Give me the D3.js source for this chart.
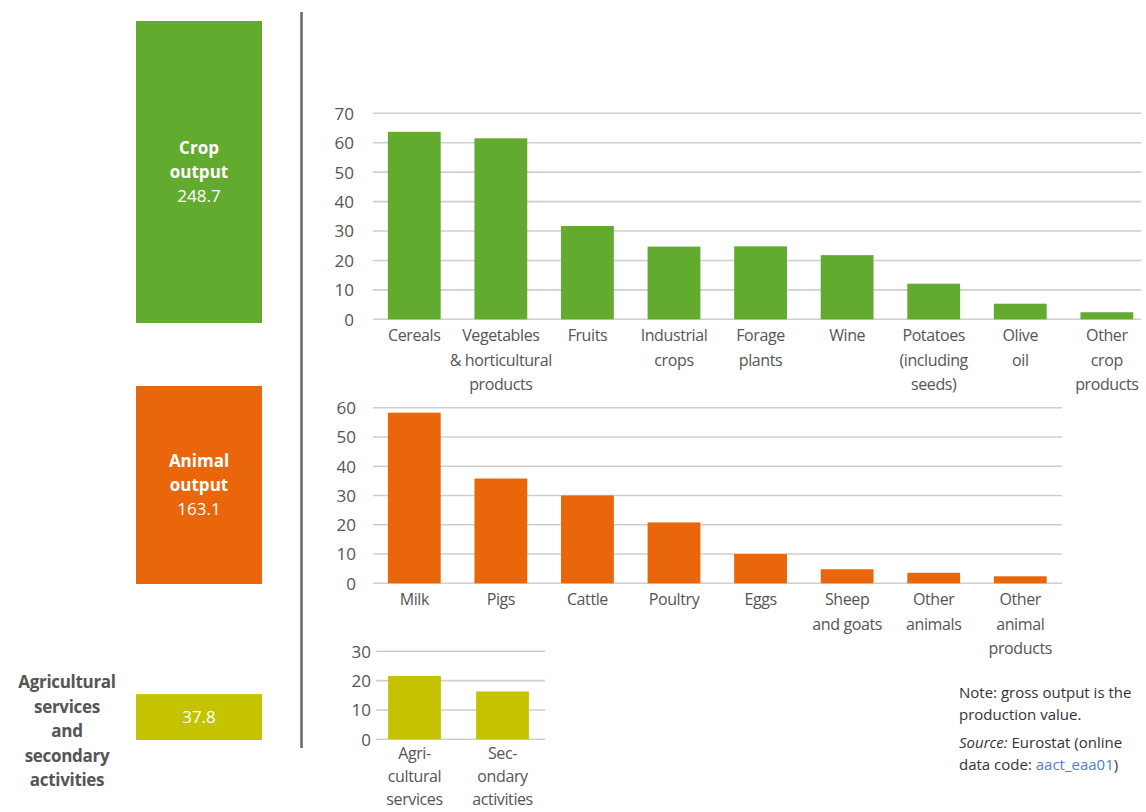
<!DOCTYPE html>
<html>
<head>
<meta charset="utf-8">
<script src="https://cdn.jsdelivr.net/npm/d3@7"></script>
<style>
  html, body { margin: 0; padding: 0; background: #fff; }
  svg { display: block; font-family: "Open Sans", "Noto Sans", sans-serif; }
</style>
</head>
<body>
<svg id="chart" width="1146" height="812"></svg>
<script>
// ---- Data ----
const cropCategories = ["Cereals", "Vegetables\n& horticultural\nproducts", "Fruits", "Industrial\ncrops", "Forage\nplants", "Wine", "Potatoes\n(including\nseeds)", "Olive\noil", "Other\ncrop\nproducts"];
const cropValues = [63.7, 61.5, 31.7, 24.7, 24.8, 21.8, 12.1, 5.3, 2.4];
const cropTicks = [0, 10, 20, 30, 40, 50, 60, 70];

const animalCategories = ["Milk", "Pigs", "Cattle", "Poultry", "Eggs", "Sheep\nand goats", "Other\nanimals", "Other\nanimal\nproducts"];
const animalValues = [58.3, 35.8, 30.0, 20.8, 10.0, 4.8, 3.6, 2.4];
const animalTicks = [0, 10, 20, 30, 40, 50, 60];

const serviceCategories = ["Agri-\ncultural\nservices", "Sec-\nondary\nactivities"];
const serviceValues = [21.6, 16.3];
const serviceTicks = [0, 10, 20, 30];

const groupNames = [["Crop", "output"], ["Animal", "output"], []];
const groupTotals = [248.7, 163.1, 37.8];
const sideLabel = ["Agricultural", "services", "and", "secondary", "activities"];
const noteLines = ["Note: gross output is the", "production value."];

// ---- Styles ----
const colors = ["#63ab2f", "#ea660b", "#c5c300"];
const gridColor = "#cfcfcf";
const textColor = "#555";

const svg = d3.select("#chart");

// ---- Left summary boxes ----
const boxScale = d3.scaleLinear().domain([0, 248.7]).range([0, 302]);
const boxBottoms = [323, 584, 740];
const boxX = 136, boxW = 126;
groupTotals.forEach((t, i) => {
  const h = boxScale(t);
  const top = boxBottoms[i] - h;
  svg.append("rect").attr("x", boxX).attr("y", top).attr("width", boxW).attr("height", h)
    .attr("fill", colors[i]);
  const cy = top + h / 2;
  const lines = groupNames[i].map(s => ({ s, bold: true })).concat([{ s: String(t), bold: false }]);
  const n = lines.length;
  lines.forEach((ln, k) => {
    svg.append("text").attr("x", boxX + boxW / 2).attr("y", cy + (k - (n - 1) / 2) * 24 + 6)
      .attr("text-anchor", "middle").attr("fill", "#fff").attr("font-size", 17)
      .attr("font-weight", ln.bold ? 700 : 400).text(ln.s);
  });
});

// side label for services
sideLabel.forEach((s, k) => {
  svg.append("text").attr("x", 67).attr("y", 688 + k * 24.5)
    .attr("text-anchor", "middle").attr("fill", textColor).attr("font-size", 17)
    .attr("font-weight", 700).attr("letter-spacing", -0.3).text(s);
});

// vertical divider
svg.append("line").attr("x1", 301.5).attr("x2", 301.5).attr("y1", 12).attr("y2", 748)
  .attr("stroke", "#666").attr("stroke-width", 2.5);

// ---- Bar charts ----
function barChart(cats, vals, ticks, color, opt) {
  const g = svg.append("g");
  const x = d3.scaleBand().domain(cats).range([opt.x0, opt.x0 + cats.length * opt.step])
    .paddingInner(opt.pad).paddingOuter(opt.pad / 2);
  const y = d3.scaleLinear().domain([0, d3.max(ticks)]).range([opt.yBase, opt.yTop]);

  // grid
  g.selectAll("line.grid").data(ticks).join("line")
    .attr("x1", opt.gx0).attr("x2", opt.gx1)
    .attr("y1", d => y(d)).attr("y2", d => y(d))
    .attr("stroke", gridColor).attr("stroke-width", 1.6);

  // y axis labels via d3 axis
  const axis = d3.axisLeft(y).tickValues(ticks).tickSize(0).tickPadding(0);
  const ag = g.append("g").attr("transform", `translate(${opt.labelX},0)`).call(axis);
  ag.select(".domain").remove();
  ag.selectAll("text").attr("font-size", 17).attr("fill", textColor)
    .attr("font-family", "Open Sans, Noto Sans, sans-serif").attr("dy", "0.35em");

  // bars
  g.selectAll("rect.bar").data(vals).join("rect")
    .attr("x", (d, i) => x(cats[i])).attr("width", x.bandwidth())
    .attr("y", d => y(d)).attr("height", d => y(0) - y(d))
    .attr("fill", color);

  // category labels
  cats.forEach((c, i) => {
    const t = g.append("text").attr("x", x(c) + x.bandwidth() / 2).attr("y", opt.yBase + opt.lblOff)
      .attr("text-anchor", "middle").attr("fill", textColor).attr("font-size", 16)
      .attr("letter-spacing", -0.4);
    c.split("\n").forEach((s, k) => {
      t.append("tspan").attr("x", x(c) + x.bandwidth() / 2).attr("dy", k === 0 ? 0 : opt.lh).text(s);
    });
  });
}

barChart(cropCategories, cropValues, cropTicks, colors[0],
  { x0: 371, step: 86.57, pad: 0.39, yBase: 319.3, yTop: 113.3, gx0: 373, gx1: 1141, labelX: 354, lblOff: 22, lh: 24.5 });
barChart(animalCategories, animalValues, animalTicks, colors[1],
  { x0: 371, step: 86.57, pad: 0.39, yBase: 583.3, yTop: 407.7, gx0: 373, gx1: 1062, labelX: 356, lblOff: 22, lh: 24.5 });
barChart(serviceCategories, serviceValues, serviceTicks, colors[2],
  { x0: 370.5, step: 88, pad: 0.40, yBase: 739.3, yTop: 651.3, gx0: 376, gx1: 545, labelX: 371, lblOff: 20, lh: 23 });

// ---- Note ----
const note = svg.append("g").attr("font-size", 15).attr("fill", "#333");
noteLines.forEach((s, k) => {
  note.append("text").attr("x", 959).attr("y", 698 + k * 22).text(s);
});
const src = note.append("text").attr("x", 959).attr("y", 748);
src.append("tspan").attr("font-style", "italic").text("Source:");
src.append("tspan").text(" Eurostat (online");
const src2 = note.append("text").attr("x", 959).attr("y", 770);
src2.append("tspan").text("data code: ");
src2.append("tspan").attr("fill", "#4f7fc6").text("aact_eaa01");
src2.append("tspan").text(")");
</script>
</body>
</html>
